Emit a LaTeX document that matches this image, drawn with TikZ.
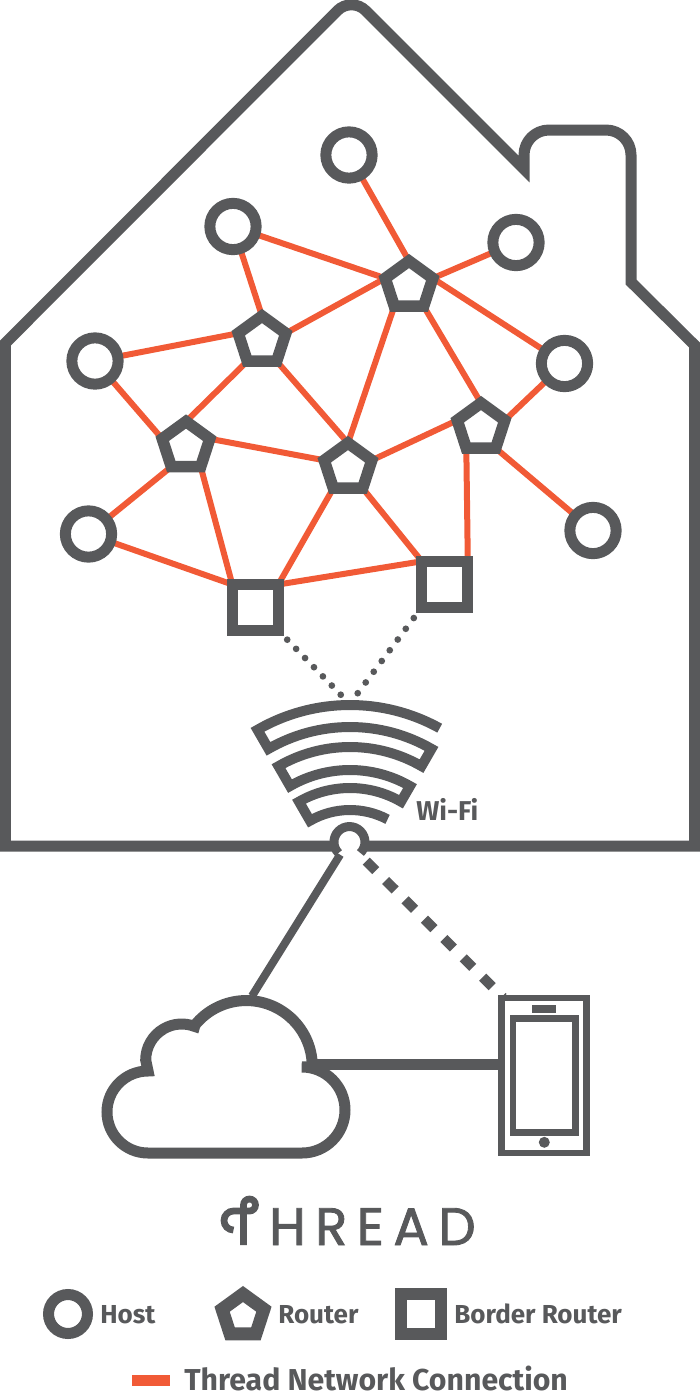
\documentclass[tikz,border=0pt]{standalone}
\usepackage{fontspec}
\setmainfont{Fira Sans}
\newfontfamily\logofont[LetterSpace=18,FakeBold=1.6]{Poppins}
\usetikzlibrary{shapes.geometric,backgrounds}
\definecolor{threadgray}{HTML}{58595B}
\definecolor{threadorange}{HTML}{F15A36}
\tikzset{
  wall/.style={draw=threadgray, line width=2.2mm, line join=miter},
  host/.style={circle, draw=threadgray, fill=white, line width=2.2mm, minimum size=9.26mm, inner sep=0pt, outer sep=0pt},
  router/.style={regular polygon, regular polygon sides=5, draw=threadgray, fill=white, line width=2.3mm, minimum size=10mm, inner sep=0pt, outer sep=0pt},
  border/.style={rectangle, draw=threadgray, fill=white, line width=2.2mm, minimum size=9.2mm, inner sep=0pt, outer sep=0pt},
  thread/.style={threadorange, line width=1.2mm},
  dots/.style={threadgray, line width=1.34mm, line cap=round},
  label/.style={text=threadgray, font=\bfseries\fontsize{14.8}{18}\selectfont, anchor=base west, inner sep=0pt}
}

\begin{document}
\begin{tikzpicture}[x=0.02cm, y=-0.02cm]
  \useasboundingbox (0,0) rectangle (700,1400);

  % ================= house =================
  \draw[wall] (5.5,846) -- (5.5,343) [rounded corners=4mm] -- (351.5,-3.5) [sharp corners] -- (524,169)
      [rounded corners=5mm] -- (524,130) -- (631,130) [sharp corners] -- (631,282) -- (694.5,345) -- (694.5,846) -- cycle;

  % ================= thread network =================
  \node[host] (hostA) at (349,155)     {};
  \node[host] (hostB) at (233,226.5)   {};
  \node[host] (hostC) at (516,242.5)   {};
  \node[host] (hostD) at (95,361)      {};
  \node[host] (hostE) at (564.5,363.5) {};
  \node[host] (hostF) at (88.5,534)    {};
  \node[host] (hostG) at (593,530.5)   {};

  \node[router] (routerA) at (409,286)   {};
  \node[router] (routerB) at (262,341)   {};
  \node[router] (routerC) at (186,446.5) {};
  \node[router] (routerD) at (348,468)   {};
  \node[router] (routerE) at (481,428)   {};

  \node[border] (borderA) at (255.3,607.5) {};
  \node[border] (borderB) at (444.8,584.3) {};
  \coordinate (wifitopA) at (341,695);
  \coordinate (wifitopB) at (357.5,693.5);

  \begin{scope}[on background layer]
    \foreach \a/\b in {hostA/routerA.corner 1, hostB/routerB.corner 1, hostB/routerA.corner 2,
        hostC/routerA.corner 5, hostD/routerB.corner 2, hostD/routerC.corner 2, hostE/routerA.corner 5,
        hostE/routerE.corner 5, hostF/routerC.corner 3, hostF/borderA.north west, hostG/routerE.corner 4,
        routerA.corner 2/routerB.corner 5, routerA.corner 3/routerD.corner 1, routerA.corner 4/routerE.corner 1,
        routerB.corner 3/routerC.corner 1, routerB.corner 4/routerD.corner 1, routerC.corner 5/routerD.corner 2,
        routerC.corner 4/borderA.north west, routerD.corner 5/routerE.corner 2, routerD.corner 3/borderA.north east,
        routerD.corner 4/borderB.north west, routerE.corner 3/borderB.north east, borderA.north east/borderB.north west}
      \draw[thread] (\a) -- (\b);
    % dotted links down to the wifi
    \draw[dots, dash pattern=on 0pt off 2.56mm] (borderA.south east) -- (wifitopA);
    \draw[dots, dash pattern=on 0pt off 2.68mm] (borderB.south west) -- (wifitopB);
  \end{scope}

  % ================= wifi =================
  \draw[threadgray, line width=2mm, line join=miter, shift={(350,890)}]
      (299:185) arc[start angle=299, end angle=240, radius=185] -- (240:163)
      arc[start angle=240, end angle=300, radius=163] -- (300:143)
      arc[start angle=300, end angle=240, radius=143] -- (240:120)
      arc[start angle=240, end angle=300, radius=120] -- (300:102)
      arc[start angle=300, end angle=240, radius=102] -- (240:80)
      arc[start angle=240, end angle=298, radius=80];
  \node[text=threadgray, font=\bfseries\fontsize{15.5}{18}\selectfont, anchor=base west, inner sep=0pt] (wifilabel) at (416,820) {Wi-Fi};

  % ================= gateway =================
  \node[circle, fill=white, minimum size=6.2mm, inner sep=0pt, outer sep=0pt] (gateway) at (349,842) {};
  \fill[white] (338,846) rectangle (360,860);
  \draw[threadgray, line width=1.8mm] (338.5,853) arc[start angle=135, end angle=405, radius=15.5];

  % ================= cloud =================
  \draw[wall]
      (148,1153) arc[start angle=90, end angle=270, radius=41]
      -- (145.7,1060) arc[start angle=180, end angle=291, radius=36]
      -- (195,1025) arc[start angle=219, end angle=360, radius=66]
      -- (302,1067) arc[start angle=270, end angle=450, radius=43] -- cycle;
  \coordinate (cloudtop) at (252,996);
  \coordinate (cloudright) at (314,1064);

  % ================= phone =================
  \draw[threadgray, line width=1.3mm] (501.7,998) rectangle (586.7,1153);
  \draw[threadgray, line width=1.3mm] (513,1018.3) rectangle (575.7,1132.7);
  \fill[threadgray] (532,1005) rectangle (556,1012.7);
  \fill[threadgray] (544.3,1142.3) circle (5.5);
  \coordinate (phoneleft) at (498.5,1064);
  \coordinate (phonecorner) at (503,997.5);

  % ================= uplinks =================
  \draw[threadgray, line width=1.6mm] (gateway.235) -- (cloudtop);
  \draw[threadgray, line width=2.2mm] (cloudright) -- (phoneleft);
  \draw[threadgray, line width=2mm, dash pattern=on 2.7mm off 2.78mm, dash phase=3.43mm] (gateway.-50) -- (phonecorner);

  % ================= logo =================
  \draw[threadgray, line width=1.35mm] (243.5,1245) -- (243.5,1205)
      arc[start angle=180, end angle=450, radius=6] -- (233.5,1211)
      arc[start angle=270, end angle=90, radius=9.5];
  \node[text=threadgray, font=\logofont\fontsize{30}{30}\selectfont, anchor=base west, inner sep=0pt] (logotext) at (269,1245) {HREAD};

  % ================= legend =================
  \node[host, line width=2.2mm, minimum size=7.8mm] (legendhost) at (68,1314) {};
  \node[router, line width=2.6mm, minimum size=8.8mm] (legendrouter) at (243,1316) {};
  \node[border, line width=2.4mm, minimum size=8mm] (legendborder) at (421,1314) {};
  \node[label] (hostlabel) at (100,1323) {Host};
  \node[label] (routerlabel) at (278,1323) {Router};
  \node[label] (borderlabel) at (454,1323) {Border Router};
  \coordinate (legendA) at (132,1380);
  \coordinate (legendB) at (170,1380);
  \draw[threadorange, line width=2.2mm] (legendA) -- (legendB);
  \node[label, font=\bfseries\fontsize{17.2}{20}\selectfont] (threadlabel) at (184,1390) {Thread Network Connection};

\end{tikzpicture}
\end{document}
